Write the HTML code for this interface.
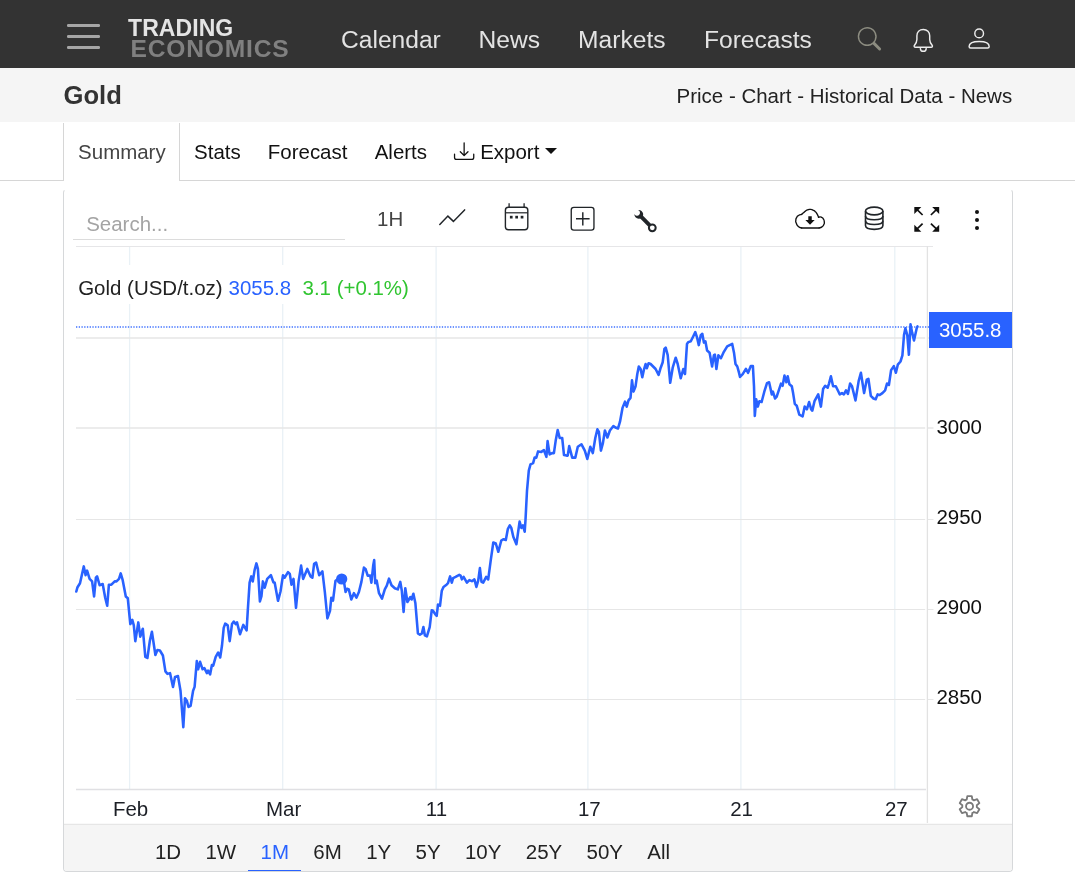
<!DOCTYPE html>
<html lang="en"><head><meta charset="utf-8"><title>Gold - Price - Chart - Historical Data - News</title>
<style>
html,body{margin:0;padding:0;}
body{width:1075px;height:875px;position:relative;overflow:hidden;background:#fff;font-family:"Liberation Sans", Arial, sans-serif;}
.t{position:absolute;white-space:nowrap;line-height:1;}
.b{position:absolute;}
.rb{display:inline-block;box-sizing:border-box;height:47px;padding:18px 12.2px 0;color:#222;vertical-align:top;}
</style></head><body>
<div class="b" style="left:0px;top:0px;width:1075px;height:68px;background:#333333;"></div>
<div class="b" style="left:67.2px;top:24.419999999999998px;width:32.6px;height:2.56px;background:#a6a6a6;border-radius:1.3px;"></div>
<div class="b" style="left:67.2px;top:35.22px;width:32.6px;height:2.56px;background:#a6a6a6;border-radius:1.3px;"></div>
<div class="b" style="left:67.2px;top:46.019999999999996px;width:32.6px;height:2.56px;background:#a6a6a6;border-radius:1.3px;"></div>
<div class="t" style="left:128.00px;top:17.00px;font-size:23px;color:#e4e4e4;font-weight:bold;letter-spacing:0.08px;">TRADING</div>
<div class="t" style="left:130.40px;top:37.00px;font-size:24.58px;color:#808080;font-weight:bold;letter-spacing:0.85px;">ECONOMICS</div>
<div class="t" style="left:341.00px;top:28.00px;font-size:24.58px;color:#e3e3e3;">Calendar</div>
<div class="t" style="left:478.60px;top:28.00px;font-size:24.58px;color:#e3e3e3;">News</div>
<div class="t" style="left:578.10px;top:28.00px;font-size:24.58px;color:#e3e3e3;">Markets</div>
<div class="t" style="left:704.00px;top:28.00px;font-size:24.58px;color:#e3e3e3;">Forecasts</div>
<svg class="b" style="left:850px;top:20px" width="40" height="40" viewBox="850 20 40 40" fill="#8c8c80"><path transform="translate(857.7 27.05) scale(1.4625)" d="M11.742 10.344a6.5 6.5 0 1 0-1.397 1.398h-.001c.03.04.062.078.098.115l3.85 3.85a1 1 0 0 0 1.415-1.414l-3.85-3.85a1.007 1.007 0 0 0-.115-.1zM12 6.5a5.5 5.5 0 1 1-11 0 5.5 5.500 0 0 1 11 0z"/></svg>
<svg class="b" style="left:905px;top:20px" width="40" height="40" viewBox="905 20 40 40" fill="none" stroke="#ececec" stroke-width="1.45" stroke-linejoin="round" stroke-linecap="round">
<path d="M923.3 29.4 C919.4 29.4 916.9 32.2 916.9 35.8 L916.9 39.5 C916.9 42 915.8 43.6 914.5 45.2 C913.7 46.2 914.3 47.2 915.5 47.2 L931.1 47.2 C932.3 47.2 932.9 46.2 932.1 45.2 C930.8 43.6 929.7 42 929.7 39.5 L929.7 35.8 C929.7 32.2 927.2 29.4 923.3 29.4 Z"/>
<path d="M920.4 48.4 A2.9 2.9 0 0 0 926.2 48.4"/></svg>
<svg class="b" style="left:960px;top:20px" width="40" height="40" viewBox="960 20 40 40" fill="none" stroke="#ececec" stroke-width="1.45" stroke-linejoin="round">
<circle cx="979.15" cy="33.4" r="4.35"/>
<path d="M969.1 46.5 C969.1 43.5 973 41.5 979.15 41.5 C985.3 41.5 989.2 43.5 989.2 46.5 C989.2 47.5 988.6 48 987.7 48 L970.6 48 C969.7 48 969.1 47.5 969.1 46.500 Z"/></svg>
<div class="b" style="left:0px;top:68px;width:1075px;height:54px;background:#f5f5f5;"></div>
<div class="t" style="left:63.50px;top:83.00px;font-size:25.6px;color:#333;font-weight:bold;">Gold</div>
<div class="t" style="left:676.60px;top:86.00px;font-size:20.48px;color:#222;">Price - Chart - Historical Data - News</div>
<div class="b" style="left:0px;top:180px;width:1075px;height:1px;background:#d6d6d6;"></div>
<div class="b" style="left:63px;top:123px;width:117px;height:58px;background:#fff;border-left:1px solid #d6d6d6;border-right:1px solid #d6d6d6;box-sizing:border-box;"></div>
<div class="t" style="left:78.10px;top:142.00px;font-size:20.48px;color:#444;">Summary</div>
<div class="t" style="left:194.10px;top:142.00px;font-size:20.48px;color:#111;">Stats</div>
<div class="t" style="left:267.80px;top:142.00px;font-size:20.48px;color:#111;">Forecast</div>
<div class="t" style="left:374.70px;top:142.00px;font-size:20.48px;color:#111;">Alerts</div>
<svg class="b" style="left:450px;top:136px" width="30" height="30" viewBox="450 136 30 30" fill="#111"><g transform="translate(453.9 140.9) scale(1.28)"><path d="M.5 9.9a.5.5 0 0 1 .5.5v2.5a1 1 0 0 0 1 1h12a1 1 0 0 0 1-1v-2.5a.5.5 0 0 1 1 0v2.5a2 2 0 0 1-2 2H2a2 2 0 0 1-2-2v-2.5a.5.5 0 0 1 .5-.5z"/><path d="M7.646 11.854a.5.5 0 0 0 .708 0l3-3a.5.5 0 0 0-.708-.708L8.5 10.293V1.5a.5.5 0 0 0-1 0v8.793L5.354 8.146a.5.5 0 1 0-.708.708l3 3z"/></g></svg>
<div class="t" style="left:480.20px;top:142.00px;font-size:20.48px;color:#111;">Export</div>
<div class="b" style="left:545.0px;top:147.9px;width:0;height:0;border-left:6.14px solid transparent;border-right:6.14px solid transparent;border-top:6.14px solid #111;"></div>
<div class="b" style="left:63px;top:189px;width:950px;height:683px;box-sizing:border-box;border:1px solid #d6d8da;border-top-color:transparent;border-radius:4px;"></div>
<div class="b" style="left:64px;top:824px;width:948px;height:47px;background:#f5f5f5;border-radius:0 0 3px 3px;"></div>
<div class="t" style="left:86.20px;top:214.00px;font-size:20.48px;color:#a4a4a4;">Search...</div>
<div class="b" style="left:73px;top:239px;width:272px;height:1px;background:#dcdcdc;"></div>
<div class="t" style="left:377.10px;top:209.00px;font-size:20.48px;color:#444;">1H</div>
<svg class="b" style="left:436px;top:204px" width="34" height="28" viewBox="436 204 34 28"><path d="M439.8 224.5 L447.9 216.1 L453.4 221.4 L464.6 209.9" fill="none" stroke="#212529" stroke-width="1.5" stroke-linecap="round" stroke-linejoin="miter"/></svg>
<svg class="b" style="left:500px;top:200px" width="34" height="34" viewBox="500 200 34 34" fill="none" stroke="#212529">
<rect x="505.4" y="207.3" width="22.4" height="22.4" rx="3" stroke-width="1.4"/>
<path d="M505.4 212.8 H527.8" stroke-width="1.2"/>
<path d="M509.1 203.2 V207 M524.1 203.2 V207" stroke-width="1.3"/>
<g fill="#212529" stroke="none"><rect x="509.9" y="215.8" width="2.7" height="2.7"/><rect x="515.3" y="215.8" width="2.7" height="2.7"/><rect x="520.7" y="215.8" width="2.7" height="2.7"/></g></svg>
<svg class="b" style="left:566px;top:202px" width="34" height="34" viewBox="566 202 34 34" fill="none" stroke="#212529">
<rect x="571.25" y="207.35" width="22.7" height="22.7" rx="2.6" stroke-width="1.35"/>
<path d="M576.0 218.8 H589.6 M582.8 212.2 V225.6" stroke-width="1.45" stroke-linecap="butt"/></svg>
<svg class="b" style="left:630px;top:205px" width="32" height="32" viewBox="630 205 32 32" fill="none" stroke="#212529">
<path d="M640.4 215.8 L650 225.6" stroke-width="3.9" stroke-linecap="butt"/>
<circle cx="652.3" cy="227.8" r="3.4" stroke-width="2.0"/>
<path d="M638.06 210.06 A4.4 4.4 0 1 1 634.43 213.92 A2.9 2.9 0 1 0 638.06 210.06 Z" fill="#212529" stroke="none"/>
</svg>
<svg class="b" style="left:790px;top:204px" width="40" height="30" viewBox="790 204 40 30">
<path d="M801.66 227.97 C800.56 227.47 800.17 228.15 798.36 226.49 C796.54 224.83 797.06 225.06 796.22 222.99 C795.38 220.92 795.70 222.08 795.83 220.27 C795.96 218.46 795.73 219.14 796.61 217.55 C797.49 215.96 796.79 216.55 798.47 215.49 C800.16 214.43 800.60 214.74 801.66 214.36" fill="none" stroke="#111" stroke-width="1.35" stroke-linecap="round"/><path d="M801.66 214.36 C802.24 213.84 802.05 213.97 803.41 212.81 C804.77 211.64 804.12 211.90 805.74 210.86 C807.36 209.83 806.78 210.19 808.27 209.70 C809.76 209.20 808.68 209.28 810.21 209.39 C811.74 209.49 811.24 209.30 812.86 210.01 C814.48 210.72 813.69 210.24 815.07 211.52 C816.46 212.81 816.02 212.34 817.02 213.86 C818.01 215.37 817.55 214.91 818.07 216.07 C818.58 217.24 818.40 216.93 818.57 217.35" fill="none" stroke="#111" stroke-width="1.35" stroke-linecap="round"/><path d="M818.57 217.35 C819.09 217.17 819.02 216.75 820.13 216.81 C821.23 216.88 820.77 216.78 821.88 217.55 C822.98 218.31 822.63 217.68 823.43 219.10 C824.23 220.53 824.16 220.01 824.29 221.83 C824.42 223.64 824.62 222.86 823.82 224.55 C823.02 226.23 823.43 225.74 821.88 226.88 C820.32 228.02 820.06 227.60 819.15 227.97" fill="none" stroke="#111" stroke-width="1.35" stroke-linecap="round"/><path d="M801.66 227.97 L819.15 227.97" stroke="#111" stroke-width="1.4" stroke-linecap="round"/>
<path d="M808.3 216.2 H811.75 V220.1 H814.7 L810.02 224.75 L805.35 220.1 H808.3 Z" fill="#111"/></svg>
<svg class="b" style="left:860px;top:202px" width="28" height="32" viewBox="860 202 28 32" fill="none" stroke="#212529" stroke-width="1.6">
<ellipse cx="874.2" cy="211.0" rx="8.700" ry="3.900"/>
<path d="M865.5 211.0 V225.600 C865.5 230.600 882.9 230.600 882.9 225.600 V211.0"/>
<path d="M865.5 216.0 C865.5 221.0 882.9 221.0 882.9 216.0"/>
<path d="M865.5 220.800 C865.5 225.800 882.9 225.800 882.900 220.800"/></svg>
<svg class="b" style="left:910px;top:202px" width="34" height="34" viewBox="910 202 34 34"><path d="M914.3 206.9 L921.3 206.9 L914.3 213.9 Z" fill="#111" stroke="none"/><path d="M915.8 208.4 L922.5999999999999 215.0" stroke="#111" stroke-width="1.7" fill="none"/><path d="M939.2 206.9 L932.2 206.9 L939.2 213.9 Z" fill="#111" stroke="none"/><path d="M937.7 208.4 L930.9000000000001 215.0" stroke="#111" stroke-width="1.7" fill="none"/><path d="M914.3 231.7 L921.3 231.7 L914.3 224.7 Z" fill="#111" stroke="none"/><path d="M915.8 230.2 L922.5999999999999 223.6" stroke="#111" stroke-width="1.7" fill="none"/><path d="M939.2 231.7 L932.2 231.7 L939.2 224.7 Z" fill="#111" stroke="none"/><path d="M937.7 230.2 L930.9000000000001 223.6" stroke="#111" stroke-width="1.7" fill="none"/></svg>
<div class="b" style="left:974.5px;top:209.8px;width:4.4px;height:4.4px;background:#111;border-radius:50%;"></div>
<div class="b" style="left:974.5px;top:217.9px;width:4.4px;height:4.4px;background:#111;border-radius:50%;"></div>
<div class="b" style="left:974.5px;top:226.10000000000002px;width:4.4px;height:4.4px;background:#111;border-radius:50%;"></div>
<svg class="b" style="left:0;top:240px" width="1075" height="590" viewBox="0 240 1075 590"><path d="M129.6 247 V789" stroke="#e9f1f6" stroke-width="1.3"/><path d="M282.7 247 V789" stroke="#e9f1f6" stroke-width="1.3"/><path d="M436.1 247 V789" stroke="#e9f1f6" stroke-width="1.3"/><path d="M587.9 247 V789" stroke="#e9f1f6" stroke-width="1.3"/><path d="M740.9 247 V789" stroke="#e9f1f6" stroke-width="1.3"/><path d="M894.8 247 V789" stroke="#e9f1f6" stroke-width="1.3"/><path d="M76 338.0 H925.2 M928 338.0 H933.5" stroke="#e6e6e6" stroke-width="1.3"/><path d="M76 428.0 H925.2 M928 428.0 H933.5" stroke="#e6e6e6" stroke-width="1.3"/><path d="M76 519.5 H925.2 M928 519.5 H933.5" stroke="#e6e6e6" stroke-width="1.0"/><path d="M76 609.5 H925.2 M928 609.5 H933.5" stroke="#e6e6e6" stroke-width="1.0"/><path d="M76 699.5 H925.2 M928 699.5 H933.5" stroke="#e6e6e6" stroke-width="1.0"/><path d="M76 246.500 H933" stroke="#e6e6e8" stroke-width="1"/><path d="M76 789.500 H926" stroke="#e0e0e3" stroke-width="1.3"/><path d="M927.4 246 V823" stroke="#e2e2e2" stroke-width="1.3"/><path d="M64 824.4 H1012" stroke="#e6e6e6" stroke-width="1.3"/></svg>
<div class="b" style="left:72px;top:265.4px;width:345px;height:38.6px;background:#fff;"></div>
<div class="t" style="left:78.20px;top:278.00px;font-size:20.48px;color:#222;">Gold (USD/t.oz)</div>
<div class="t" style="left:228.50px;top:278.00px;font-size:20.48px;color:#2962ff;">3055.8</div>
<div class="t" style="left:302.50px;top:278.00px;font-size:20.48px;color:#30c530;">3.1 (+0.1%)</div>
<svg class="b" style="left:0;top:240px" width="1075" height="590" viewBox="0 240 1075 590">
<path d="M76 327 H929" stroke="#2962ff" stroke-width="1.3" stroke-dasharray="1.3 1.43" fill="none" opacity="0.9"/>
<path d="M76.3 591.5 L77.5 587.2 L80.0 583.2 L83.8 566.4 L85.6 575.2 L87.1 570.6 L89.6 578.9 L92.1 581.4 L94.1 596.5 L95.9 577.7 L97.1 576.4 L99.6 585.2 L102.7 584.0 L105.2 597.8 L107.2 605.8 L108.9 584.7 L111.4 584.7 L114.7 581.4 L116.5 581.4 L119.0 578.9 L120.7 573.4 L122.7 580.2 L125.8 596.5 L127.8 598.3 L130.3 624.1 L132.3 619.9 L133.8 625.4 L135.3 641.2 L138.3 622.4 L140.3 636.7 L142.8 628.7 L145.3 656.8 L147.4 658.0 L149.9 640.5 L151.9 631.7 L155.4 655.0 L157.4 650.0 L159.9 650.5 L162.9 655.5 L165.4 671.4 L167.5 673.9 L170.0 673.1 L173.0 686.9 L175.0 676.9 L178.0 676.1 L180.5 690.7 L183.3 727.1 L185.0 698.2 L186.8 700.7 L188.5 707.0 L190.6 705.8 L193.1 690.7 L194.6 686.9 L196.8 661.1 L198.1 669.3 L200.1 661.8 L202.6 669.3 L204.4 668.1 L206.9 673.1 L208.1 670.6 L210.1 674.4 L211.9 665.1 L213.2 665.6 L215.7 656.8 L218.2 652.5 L220.2 657.5 L222.0 645.5 L223.7 627.9 L225.2 623.6 L227.7 625.4 L229.7 641.2 L232.0 624.1 L233.8 621.6 L235.8 624.1 L237.0 622.4 L240.0 634.2 L243.3 624.9 L246.6 630.4 L247.8 610.3 L249.6 582.7 L251.3 576.4 L252.8 581.4 L254.6 570.1 L256.4 563.4 L257.9 568.9 L259.9 601.5 L261.4 596.5 L262.9 581.4 L264.7 587.7 L267.2 578.9 L270.9 575.2 L273.4 582.2 L274.7 582.7 L278.0 600.8 L280.5 591.5 L283.0 575.2 L284.7 577.7 L288.0 572.1 L289.8 573.9 L291.5 584.7 L293.5 578.9 L296.0 607.8 L298.6 581.4 L301.1 565.6 L303.1 578.9 L307.3 568.9 L310.6 576.4 L312.4 577.7 L314.1 563.9 L316.1 562.6 L319.2 575.2 L322.4 571.4 L324.9 592.7 L327.4 618.4 L330.0 610.8 L331.3 597.7 L333.0 600.7 L335.5 580.7 L337.5 579.4 L343.8 580.7 L345.6 592.0 L347.1 588.7 L348.8 589.4 L351.3 599.5 L353.9 593.2 L356.4 597.7 L358.9 592.0 L361.4 581.9 L363.9 567.6 L365.7 569.3 L367.7 575.6 L370.2 575.6 L371.4 582.7 L373.2 565.6 L374.2 560.1 L375.2 583.2 L376.7 580.7 L379.0 593.2 L382.0 598.7 L384.8 589.4 L386.8 585.7 L389.0 578.6 L391.5 585.2 L394.8 588.2 L397.8 589.4 L400.3 581.9 L401.8 590.7 L403.6 612.0 L405.3 588.2 L407.4 602.0 L410.4 597.0 L411.6 599.5 L413.4 593.7 L415.4 603.3 L417.9 633.4 L419.9 634.7 L421.9 633.4 L423.4 627.1 L424.9 635.4 L426.9 636.4 L429.7 627.1 L431.7 610.3 L433.0 610.8 L435.5 614.6 L436.7 615.8 L438.0 604.5 L440.0 605.8 L441.8 590.7 L443.5 586.9 L446.8 584.4 L448.0 583.2 L450.1 576.4 L451.8 582.7 L453.1 578.1 L455.6 576.9 L459.3 574.9 L460.6 575.6 L461.9 579.4 L463.6 576.9 L466.9 582.7 L469.4 580.1 L471.9 581.2 L474.4 579.4 L476.4 586.9 L478.2 580.7 L479.9 568.1 L481.5 581.9 L483.2 582.7 L486.2 576.9 L488.2 579.4 L490.7 560.6 L493.3 542.5 L495.8 543.5 L498.3 551.8 L501.3 540.5 L503.3 539.2 L505.8 540.0 L507.8 529.2 L509.8 525.4 L511.3 527.9 L513.3 536.7 L516.4 544.2 L519.6 521.6 L521.4 527.9 L522.9 525.4 L524.7 531.7 L525.5 519.9 L527.0 490.8 L528.8 470.7 L530.5 464.4 L533.1 463.2 L534.6 457.6 L536.3 457.6 L538.1 451.4 L541.3 451.9 L543.9 450.1 L546.4 456.9 L547.6 441.1 L549.6 454.4 L552.1 453.1 L553.9 453.1 L555.7 440.6 L557.7 430.0 L559.7 438.0 L562.2 438.0 L564.0 455.1 L566.5 455.6 L567.7 455.6 L569.2 446.1 L572.2 457.6 L575.3 457.6 L577.8 446.8 L581.5 444.3 L584.8 450.6 L587.3 458.9 L590.3 446.8 L592.8 453.1 L595.3 438.0 L597.4 429.3 L598.9 431.8 L600.9 450.6 L602.9 443.1 L604.9 430.5 L607.4 437.5 L609.9 430.5 L613.4 426.0 L615.4 427.5 L618.0 428.5 L620.0 421.7 L622.5 407.9 L625.0 401.6 L626.7 406.7 L628.5 400.4 L630.5 397.9 L632.0 380.3 L633.5 391.6 L635.5 386.6 L637.3 374.0 L638.8 366.5 L640.6 369.0 L642.3 377.3 L643.8 370.2 L645.6 364.0 L646.8 368.2 L648.6 363.2 L650.6 364.0 L653.1 366.5 L655.6 369.0 L658.6 374.8 L660.7 367.7 L662.7 362.2 L664.4 348.9 L665.7 347.6 L667.7 355.2 L670.2 382.8 L672.7 367.7 L675.7 357.7 L677.7 364.0 L680.7 378.3 L683.3 369.0 L685.0 374.0 L687.0 343.9 L688.3 342.1 L690.8 341.3 L693.3 336.3 L695.3 332.1 L697.1 337.6 L698.8 345.1 L700.8 335.1 L702.3 333.8 L703.9 342.6 L705.4 341.3 L707.1 350.6 L709.6 352.7 L712.1 366.5 L713.9 355.2 L714.9 354.7 L716.4 369.0 L718.4 355.2 L720.9 358.2 L723.4 352.7 L727.2 346.4 L729.7 345.1 L732.2 343.9 L734.0 352.7 L735.5 364.0 L737.3 366.5 L739.0 372.7 L740.0 376.9 L742.7 374.2 L745.9 368.8 L748.1 372.8 L750.8 366.1 L752.9 366.1 L754.0 386.3 L754.8 416.0 L756.2 399.3 L757.8 406.6 L759.4 401.2 L761.6 402.0 L764.3 391.7 L767.0 383.1 L769.1 382.3 L771.8 394.4 L772.9 391.7 L775.1 398.5 L776.7 396.6 L781.0 383.6 L782.6 385.8 L784.5 375.5 L786.4 382.3 L787.7 376.3 L789.4 384.2 L791.8 386.3 L793.1 393.1 L794.8 403.9 L796.7 405.7 L799.3 414.7 L802.6 416.5 L804.7 406.6 L806.9 409.3 L809.1 402.0 L811.2 409.3 L812.3 410.6 L814.5 401.2 L818.2 394.4 L820.9 406.6 L823.1 389.0 L825.2 385.8 L827.7 387.7 L829.0 383.6 L830.9 376.3 L833.1 386.3 L835.8 386.3 L838.5 391.7 L839.8 394.4 L842.0 393.1 L843.9 394.4 L846.0 390.4 L847.9 393.9 L850.1 383.6 L852.0 386.3 L855.5 400.4 L858.7 380.9 L860.9 372.8 L864.1 393.1 L866.8 379.6 L868.4 378.8 L870.8 395.8 L873.5 398.5 L875.7 399.3 L877.6 394.4 L879.7 395.0 L882.4 393.1 L885.1 390.4 L887.0 383.6 L888.9 385.0 L891.1 370.1 L893.8 366.1 L895.9 372.8 L897.8 364.7 L900.5 361.5 L902.4 355.3 L904.0 335.1 L905.4 328.3 L907.3 335.1 L908.9 354.8 L910.5 324.3 L912.1 332.4 L914.0 340.5 L916.7 328.3 L917.5 326.4" fill="none" stroke="#2962ff" stroke-width="2.56" stroke-linejoin="round" stroke-linecap="round"/>
<circle cx="341.7" cy="579" r="5.6" fill="#2962ff"/>
</svg>
<div class="t" style="left:936.40px;top:417.00px;font-size:20.48px;color:#101010;">3000</div>
<div class="t" style="left:936.40px;top:507.00px;font-size:20.48px;color:#101010;">2950</div>
<div class="t" style="left:936.40px;top:597.00px;font-size:20.48px;color:#101010;">2900</div>
<div class="t" style="left:936.40px;top:687.00px;font-size:20.48px;color:#101010;">2850</div>
<div class="b" style="left:929px;top:312px;width:83px;height:36px;background:#2962ff;"></div>
<div class="t" style="left:938.90px;top:320.00px;font-size:20.48px;color:#fff;">3055.8</div>
<div class="t" style="left:130.60px;top:799.00px;font-size:20.48px;color:#1c1f26;transform:translateX(-50%);">Feb</div>
<div class="t" style="left:283.60px;top:799.00px;font-size:20.48px;color:#1c1f26;transform:translateX(-50%);">Mar</div>
<div class="t" style="left:436.40px;top:799.00px;font-size:20.48px;color:#1c1f26;transform:translateX(-50%);">11</div>
<div class="t" style="left:589.30px;top:799.00px;font-size:20.48px;color:#1c1f26;transform:translateX(-50%);">17</div>
<div class="t" style="left:741.60px;top:799.00px;font-size:20.48px;color:#1c1f26;transform:translateX(-50%);">21</div>
<div class="t" style="left:896.30px;top:799.00px;font-size:20.48px;color:#1c1f26;transform:translateX(-50%);">27</div>
<svg class="b" style="left:953px;top:790px" width="32" height="32" viewBox="953 790 32 32" fill="none" stroke="#7a7a7a" stroke-width="1.85" stroke-linejoin="round"><path d="M966.70 799.48 L967.32 796.14 L971.78 796.14 L972.40 799.48 L973.20 799.88 L973.94 800.37 L977.14 799.24 L979.37 803.10 L976.80 805.31 L976.85 806.20 L976.80 807.09 L979.37 809.30 L977.14 813.16 L973.94 812.03 L973.20 812.52 L972.40 812.92 L971.78 816.26 L967.32 816.26 L966.70 812.92 L965.90 812.52 L965.16 812.03 L961.96 813.16 L959.73 809.30 L962.30 807.09 L962.25 806.20 L962.30 805.31 L959.73 803.10 L961.96 799.24 L965.16 800.37 L965.90 799.88 Z"/><circle cx="969.55" cy="806.2" r="3.5"/></svg>
<div class="b" style="left:142.7px;top:824px;height:47px;white-space:nowrap;font-size:20.48px;line-height:1;"><span class="rb">1D</span><span class="rb">1W</span><span class="rb" style="color:#2962ff;position:relative;">1M<span style="position:absolute;left:0;right:0;top:46.0px;height:1.4px;background:#2962ff;"></span></span><span class="rb">6M</span><span class="rb">1Y</span><span class="rb">5Y</span><span class="rb">10Y</span><span class="rb">25Y</span><span class="rb">50Y</span><span class="rb">All</span></div>
</body></html>
